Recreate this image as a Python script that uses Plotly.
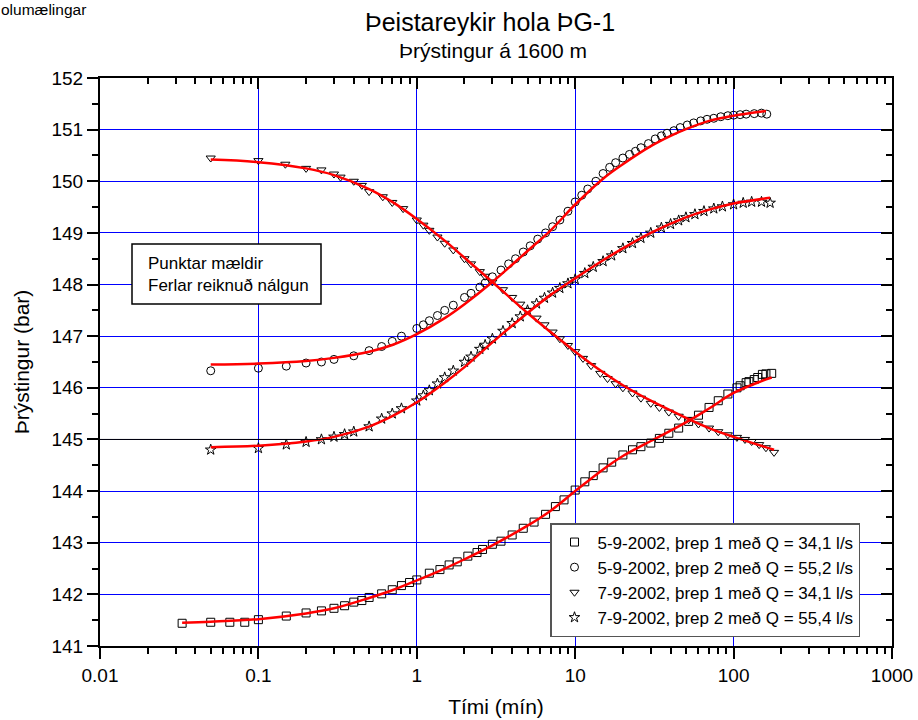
import plotly.graph_objects as go

FONT = "Liberation Sans, Arial, sans-serif"

# ---- measured data ----
s1_t = [0.033,0.05,0.066,0.082,0.1,0.15,0.2,0.25,0.3,0.35,0.4,0.45,0.5,0.6,0.7,0.8,0.9,1.0,1.2,1.4,1.6,1.8,2.1,2.4,2.6,3.0,3.4,4,4.7,5.5,6.5,7.5,8.5,10,11.5,13,15,17,20,23,26,30,34,39,45,52,60,70,80,92,105,110,120,125,135,142,152,160,174]
s1_p = [141.44,141.46,141.46,141.46,141.51,141.58,141.64,141.68,141.73,141.78,141.85,141.88,141.94,142.01,142.09,142.17,142.23,142.28,142.41,142.48,142.57,142.63,142.74,142.81,142.87,142.97,143.03,143.15,143.28,143.40,143.55,143.70,143.83,144.02,144.18,144.30,144.45,144.56,144.70,144.80,144.86,144.93,145.02,145.12,145.22,145.35,145.47,145.62,145.75,145.88,146.0,146.04,146.1,146.12,146.16,146.2,146.26,146.27,146.28]

s2_t = [0.05,0.1,0.15,0.2,0.25,0.3,0.4,0.5,0.6,0.7,0.8,1.0,1.1,1.2,1.35,1.5,1.7,2,2.2,2.5,2.7,3,3.4,3.8,4.2,4.7,5.2,5.8,6.5,7.2,8,9,10,11,12,13.5,15,16.5,18,20,22,24,26,29,32,35,38,42,46,51,56,62,68,75,83,92,100,110,120,135,150,162]
s2_p = [146.33,146.38,146.42,146.48,146.50,146.55,146.62,146.72,146.80,146.90,147.0,147.15,147.22,147.3,147.4,147.5,147.6,147.75,147.83,147.95,148.03,148.15,148.28,148.4,148.5,148.63,148.75,148.88,149.0,149.12,149.25,149.42,149.6,149.73,149.85,150.0,150.15,150.27,150.36,150.45,150.52,150.58,150.65,150.73,150.82,150.88,150.93,150.98,151.04,151.09,151.13,151.17,151.2,151.22,151.25,151.27,151.28,151.29,151.30,151.31,151.32,151.30]

s3_t = [0.05,0.1,0.148,0.2,0.25,0.3,0.33,0.4,0.45,0.5,0.61,0.7,0.82,1.0,1.1,1.2,1.35,1.5,1.7,2,2.2,2.5,2.7,3,3.5,4,4.5,5,5.7,6.4,7.2,8,9,10,11.2,12.6,14.4,16,18,20,23,26,30,34,39,45,52,60,70,80,92,105,118,130,145,160,180]
s3_p = [150.45,150.40,150.33,150.25,150.22,150.14,150.08,150.0,149.92,149.80,149.70,149.59,149.47,149.25,149.15,149.05,148.92,148.8,148.67,148.5,148.4,148.25,148.16,148.05,147.9,147.75,147.62,147.5,147.35,147.22,147.08,146.95,146.82,146.7,146.57,146.43,146.28,146.18,146.08,146.0,145.9,145.8,145.7,145.62,145.53,145.45,145.38,145.3,145.22,145.15,145.09,145.04,145.0,144.96,144.9,144.84,144.75]

s4_t = [0.05,0.1,0.15,0.2,0.25,0.3,0.35,0.4,0.5,0.6,0.7,0.8,1.0,1.1,1.2,1.35,1.5,1.7,2,2.2,2.5,2.7,3,3.5,4,4.5,5,5.7,6.4,7.2,8,9,10,11.5,13,15,17,20,23,26,30,35,40,45,50,57,65,75,85,100,115,130,150,170]
s4_p = [144.8,144.83,144.9,144.95,145.0,145.05,145.1,145.15,145.25,145.4,145.5,145.6,145.75,145.85,145.95,146.08,146.2,146.33,146.5,146.6,146.75,146.83,146.95,147.1,147.25,147.38,147.5,147.63,147.74,147.84,147.93,148.02,148.1,148.22,148.34,148.45,148.56,148.7,148.8,148.9,149.0,149.1,149.17,149.24,149.3,149.36,149.42,149.47,149.51,149.55,149.58,149.6,149.6,149.58]

# ---- fitted curves ----
f1_t = [0.033,0.05,0.1,0.2,0.3,0.5,0.7,1,1.5,2,3,5,7,10,15,20,30,50,70,100,150,174]
f1_p = [141.45,141.47,141.52,141.63,141.73,141.93,142.08,142.27,142.5,142.68,142.95,143.33,143.62,144.0,144.42,144.68,144.97,145.33,145.6,145.9,146.13,146.2]
f2_t = [0.05,0.1,0.2,0.3,0.5,0.7,1,1.5,2,3,5,7,10,15,20,30,40,50,70,100,160]
f2_p = [146.45,146.47,146.52,146.58,146.7,146.83,147.04,147.35,147.62,148.05,148.65,149.05,149.55,150.05,150.33,150.68,150.88,151.01,151.17,151.27,151.36]
f3_t = [0.05,0.1,0.2,0.3,0.5,0.7,1,1.5,2,3,5,7,10,15,20,30,50,70,100,180]
f3_p = [150.42,150.37,150.25,150.12,149.85,149.6,149.27,148.85,148.52,148.05,147.45,147.08,146.7,146.3,146.05,145.75,145.42,145.22,145.05,144.8]
f4_t = [0.05,0.1,0.2,0.3,0.5,0.7,1,1.5,2,3,5,7,10,15,20,30,50,70,100,170]
f4_p = [144.85,144.88,144.96,145.05,145.25,145.45,145.72,146.1,146.4,146.88,147.45,147.8,148.12,148.47,148.7,149.0,149.3,149.45,149.57,149.68]

names = ["5-9-2002, þrep 1 með Q = 34,1 l/s",
         "5-9-2002, þrep 2 með Q = 55,2 l/s",
         "7-9-2002, þrep 1 með Q = 34,1 l/s",
         "7-9-2002, þrep 2 með Q = 55,4 l/s"]
symbols = ["square-open", "circle-open", "triangle-down-open", "star-open"]

x_tickvals = [0.01, 0.1, 1, 10, 100, 1000]
x_ticktext = ["0.01", "0.1", "1", "10", "100", "1000"]
x_minor = [m * 10.0**e for e in range(-2, 3) for m in range(2, 10)]
dark_grid_y = 145

fig = go.Figure()
for (t, p), nm, sym in zip([(s1_t, s1_p), (s2_t, s2_p), (s3_t, s3_p), (s4_t, s4_p)], names, symbols):
    fig.add_trace(go.Scatter(x=t, y=p, mode="markers", name=nm,
                             marker=dict(symbol=sym, size=8, color="black", line=dict(width=1, color="black"))))
for ft, fp in [(f1_t, f1_p), (f2_t, f2_p), (f3_t, f3_p), (f4_t, f4_p)]:
    fig.add_trace(go.Scatter(x=ft, y=fp, mode="lines", line=dict(color="red", width=2.5, shape="spline"),
                             showlegend=False, hoverinfo="skip"))
# invisible trace for the mirror axes
fig.add_trace(go.Scatter(x=[1], y=[145], xaxis="x2", yaxis="y2", mode="markers",
                         marker=dict(opacity=0), showlegend=False, hoverinfo="skip"))

axis_common = dict(showline=True, linecolor="black", linewidth=2, tickcolor="black", tickwidth=2,
                   tickfont=dict(family=FONT, size=19, color="black"), zeroline=False, automargin=False)

fig.update_layout(
    width=918, height=720,
    margin=dict(l=100, r=26, t=78, b=74),
    paper_bgcolor="white", plot_bgcolor="white",
    font=dict(family=FONT, color="black"),
    xaxis=dict(type="log", range=[-2, 3], tickmode="array", tickvals=x_tickvals, ticktext=x_ticktext,
               ticks="outside", ticklen=11, showgrid=True, gridcolor="#0000ff", gridwidth=1,
               minor=dict(tickmode="array", tickvals=x_minor, ticks="outside", ticklen=6,
                          tickcolor="black", tickwidth=2, showgrid=False),
               title=dict(text="Tími (mín)", font=dict(family=FONT, size=21), standoff=15),
               **axis_common),
    yaxis=dict(range=[141, 152], dtick=1, tick0=141, ticks="outside", ticklen=11,
               showgrid=True, gridcolor="#0000ff", gridwidth=1,
               minor=dict(dtick=0.5, ticks="outside", ticklen=6, tickcolor="black", tickwidth=2, showgrid=False),
               title=dict(text="Þrýstingur (bar)", font=dict(family=FONT, size=21), standoff=16),
               **axis_common),
    xaxis2=dict(type="log", range=[-2, 3], overlaying="x", side="top", showticklabels=False,
                tickmode="array", tickvals=x_tickvals, ticks="inside", ticklen=11, showgrid=False,
                minor=dict(tickmode="array", tickvals=x_minor, ticks="inside", ticklen=6,
                           tickcolor="black", tickwidth=2), automargin=False,
                showline=True, linecolor="black", linewidth=2, tickcolor="black", tickwidth=2, zeroline=False),
    yaxis2=dict(range=[141, 152], dtick=1, tick0=141, overlaying="y", side="right", anchor="x2",
                showticklabels=False, ticks="inside", ticklen=11, showgrid=False,
                minor=dict(dtick=0.5, ticks="inside", ticklen=6, tickcolor="black", tickwidth=2), automargin=False,
                showline=True, linecolor="black", linewidth=2, tickcolor="black", tickwidth=2, zeroline=False),
    legend=dict(x=(550 - 100) / 792, y=(646 - 580) / 568, xanchor="left", yanchor="middle", bgcolor="white",
                bordercolor="#555555", borderwidth=1.5, font=dict(family=FONT, size=17, color="black"),
                tracegroupgap=0, itemwidth=36),
    showlegend=True,
)

# darker horizontal grid line
fig.add_shape(type="line", xref="paper", yref="y", x0=0, x1=1, y0=dark_grid_y, y1=dark_grid_y,
              line=dict(color="black", width=1), layer="above")

# text box
fig.add_shape(type="rect", xref="paper", yref="paper",
              x0=(132 - 100) / 792, x1=(321 - 100) / 792, y0=(646 - 304) / 568, y1=(646 - 244) / 568,
              line=dict(color="black", width=1.5), fillcolor="white", layer="above")
fig.add_annotation(text="Punktar mældir<br>Ferlar reiknuð nálgun", xref="paper", yref="paper",
                   x=(146 - 100) / 792, y=(646 - 274) / 568, xanchor="left", yanchor="middle", align="left",
                   showarrow=False, font=dict(family=FONT, size=17))

fig.add_annotation(text="Þeistareykir hola ÞG-1", xref="paper", yref="paper", x=(490 - 100) / 792,
                   y=(646 - 22) / 568, xanchor="center", yanchor="middle", showarrow=False,
                   font=dict(family=FONT, size=25))
fig.add_annotation(text="Þrýstingur á 1600 m", xref="paper", yref="paper", x=(493 - 100) / 792,
                   y=(646 - 51) / 568, xanchor="center", yanchor="middle", showarrow=False,
                   font=dict(family=FONT, size=21))
fig.add_annotation(text="olumælingar", xref="paper", yref="paper", x=(-1 - 100) / 792, y=(646 - 9) / 568,
                   xanchor="left", yanchor="middle", showarrow=False, font=dict(family=FONT, size=15.5))

fig.write_html("out.html")
